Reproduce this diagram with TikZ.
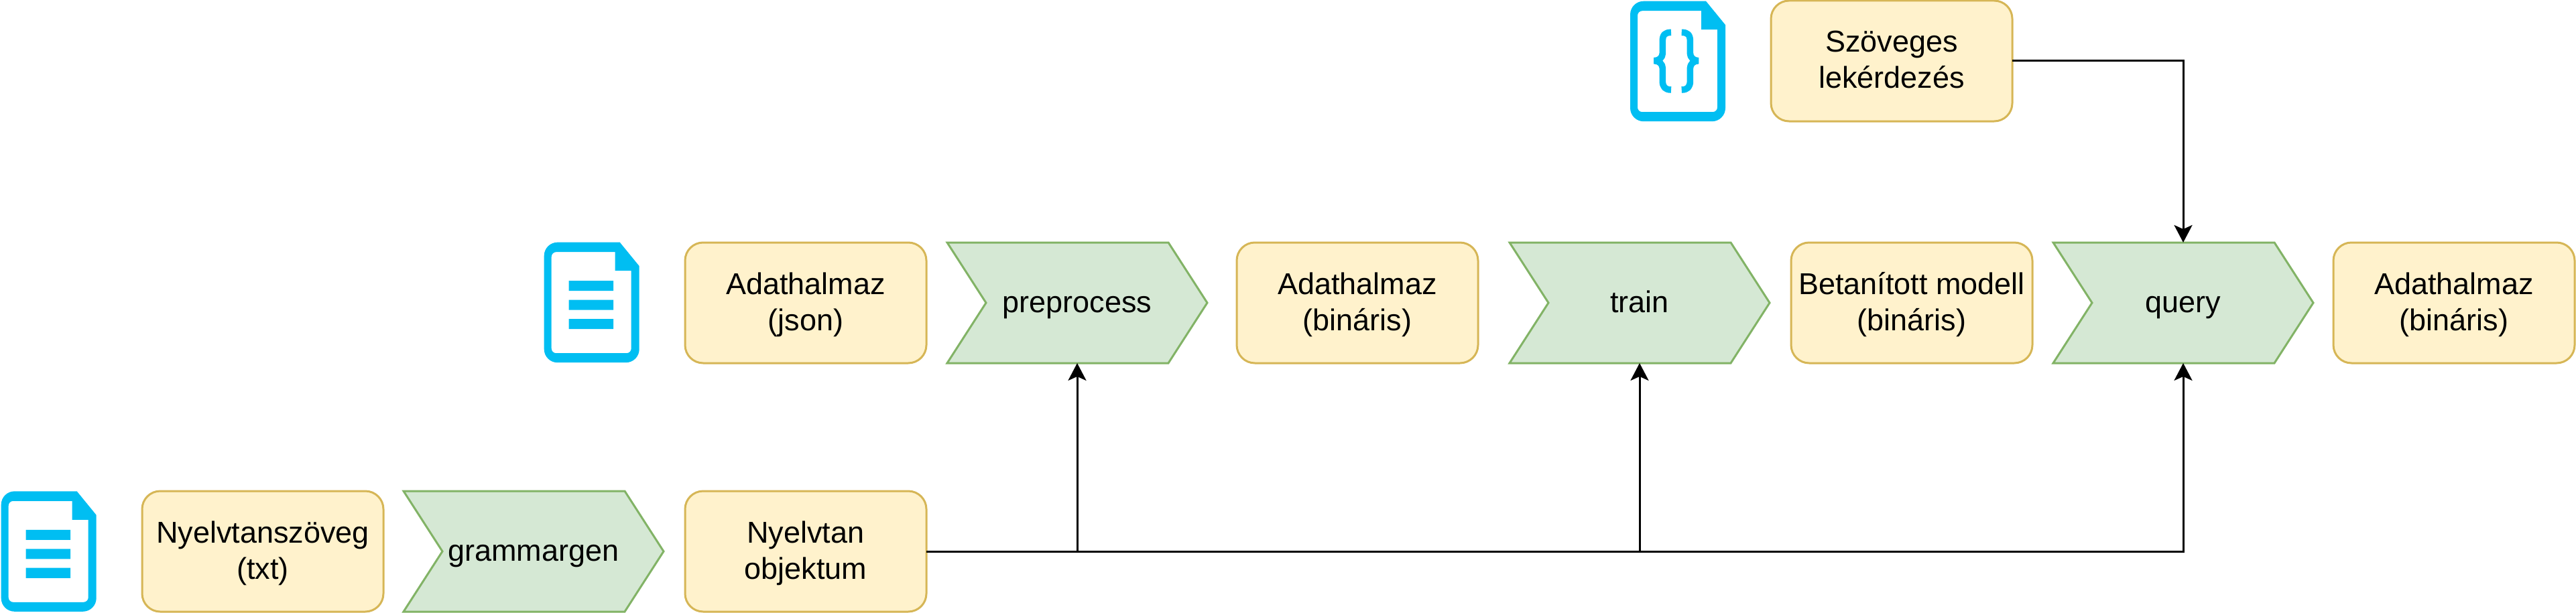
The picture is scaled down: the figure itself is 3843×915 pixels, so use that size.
\documentclass[tikz,border=0pt]{standalone}
\usepackage{fontspec}
\setmainfont{Liberation Sans}
\usetikzlibrary{arrows.meta}
\definecolor{boxfill}{HTML}{FFF2CC}
\definecolor{boxline}{HTML}{D6B656}
\definecolor{chevfill}{HTML}{D5E8D4}
\definecolor{chevline}{HTML}{82B366}
\definecolor{iconblue}{HTML}{00BEF2}
\newcommand\lineprop{\rule[-6.5pt]{0pt}{27pt}}
\tikzset{
  x=0.5pt,y=-0.5pt,
  labelfont/.style={font=\fontsize{22.5}{27}\selectfont,align=center,inner sep=0pt,outer sep=0pt},
  databox/.style={labelfont,draw=boxline,fill=boxfill,line width=1.5pt,rounded corners=13.5pt,minimum width=180pt,minimum height=90pt},
  stepshape/.style={draw=chevline,fill=chevfill,line width=1.5pt,line join=miter},
  steplabel/.style={labelfont,minimum width=194pt,minimum height=90pt},
  flow/.style={draw=black,line width=1.5pt,-{Stealth[length=13pt,width=13.5pt,inset=3pt]}},
  pics/docicon/.style={code={
    \fill[iconblue,even odd rule]
      (0,90) [rounded corners=10pt] -- (0,0) -- (50,0) [sharp corners] -- (113,0) -- (142,35.5) -- (142,90)
      [rounded corners=10pt] -- (142,179.5) -- (0,179.5) -- cycle
      (11,90) [rounded corners=3.5pt] -- (11,14.5) -- (50,14.5) [sharp corners] -- (106,14.5) -- (106,42.5) -- (130,42.5) -- (130,90)
      [rounded corners=3.5pt] -- (130,165.5) -- (11,165.5) -- cycle;
  }},
  pics/lines/.style={code={
    \fill[iconblue] (37,57.5) rectangle (103.3,72.5) (37,86) rectangle (103.3,101) (37,114.3) rectangle (103.3,129.5);
  }},
  pics/braces/.style={code={
    \draw[iconblue,line width=4.8pt,line join=bevel]
      (61,46.7) .. controls (52,46.7) and (48.3,50) .. (48.3,60) -- (48.3,78)
      .. controls (48.3,84) and (43,89) .. (36,89) .. controls (43,89) and (48.3,94) .. (48.3,100)
      -- (48.3,119) .. controls (48.3,128) and (52,132.3) .. (61,132.3);
    \draw[iconblue,line width=4.8pt,line join=bevel]
      (76.7,46.7) .. controls (85.7,46.7) and (89.4,50) .. (89.4,60) -- (89.4,78)
      .. controls (89.4,84) and (94.7,89) .. (101.5,89) .. controls (94.7,89) and (89.4,94) .. (89.4,100)
      -- (89.4,119) .. controls (89.4,128) and (85.7,132.3) .. (76.7,132.3);
  }},
}
\newcommand\stepnode[4]{%
  \draw[stepshape] (#2,#3-90) -- ++(330,0) -- ++(58,90) -- ++(-58,90) -- ++(-330,0) -- ++(58,-90) -- cycle;
  \node[steplabel] (#1) at (#2+194,#3) {\lineprop #4};
}
\begin{document}
\begin{tikzpicture}
\useasboundingbox (0,0) rectangle (3843,915);
% icons
\pic at (1.7,733.3) {docicon};
\pic at (1.7,733.3) {lines};
\pic at (811.7,361.7) {docicon};
\pic at (811.7,361.7) {lines};
\pic at (2432,1.7) {docicon};
\pic at (2432,1.7) {braces};
% data boxes
\node[databox] (nt) at (392,823) {\lineprop Nyelvtanszöveg\\\lineprop (txt)};
\node[databox] (gm) at (1202,823) {\lineprop Nyelvtan\\\lineprop objektum};
\node[databox] (ad) at (1202,452) {\lineprop Adathalmaz\\\lineprop (json)};
\node[databox] (ab) at (2025,452) {\lineprop Adathalmaz\\\lineprop (bináris)};
\node[databox] (bm) at (2852,452) {\lineprop Betanított modell\\\lineprop (bináris)};
\node[databox] (ae) at (3661,452) {\lineprop Adathalmaz\\\lineprop (bináris)};
\node[databox] (sz) at (2822,91) {\lineprop Szöveges\\\lineprop lekérdezés};
% steps
\stepnode{gr}{602}{823}{grammargen}
\stepnode{pr}{1413}{452}{preprocess}
\stepnode{tr}{2252}{452}{train}
\stepnode{qu}{3063}{452}{query}
% connectors
\draw[flow] (sz.east) -| (qu.north);
\draw[flow] (gm.east) -| (pr.south);
\draw[flow] (gm.east) -| (tr.south);
\draw[flow] (gm.east) -| (qu.south);
\end{tikzpicture}
\end{document}
